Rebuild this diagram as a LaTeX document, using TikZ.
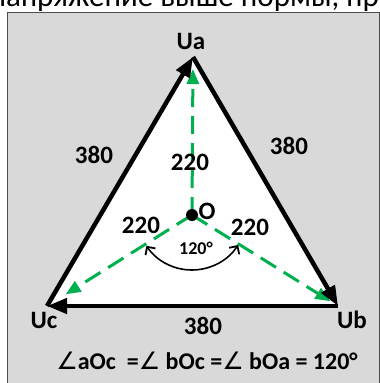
\documentclass[tikz,border=0pt]{standalone}
\usepackage{fontspec}
\setmainfont{Carlito}
\newfontfamily\symfont{DejaVu Sans}
\usetikzlibrary{arrows.meta}
\definecolor{boxgray}{HTML}{D9D9D9}
\definecolor{vecgreen}{HTML}{00B050}
\begin{document}
\begin{tikzpicture}[x=1pt,y=-1pt,
  lbl/.style={font=\fontsize{25}{25}\selectfont\bfseries, inner sep=0pt},
  small/.style={font=\fontsize{18}{18}\selectfont\bfseries, inner sep=0pt},
  edge/.style={line width=4.5pt, -{Triangle[length=20pt,width=15pt]}},
  phase/.style={vecgreen, line width=3pt, dash pattern=on 18pt off 9pt, -{Triangle[length=15pt,width=12pt]}},
  anglearc/.style={line width=1.6pt, {Straight Barb[length=6pt,width=12pt,line width=1.8pt]}-{Straight Barb[length=6pt,width=12pt,line width=1.8pt]}}]
\useasboundingbox (0,0) rectangle (380,383);
\begin{scope}
  \clip (0,0) rectangle (380,12);
  \node[anchor=base east, font=\fontsize{31}{31}\selectfont, inner sep=0pt] (top) at (379,6) {напряжение выше нормы, пр};
\end{scope}
\fill[boxgray, draw=black!70, line width=1pt] (7,12) rectangle (379,395);
\coordinate (Ua) at (193,57);
\coordinate (Ub) at (338,306);
\coordinate (Uc) at (47,306);
\coordinate (O) at (192,215);
\fill[white] (Ua) -- (Ub) -- (Uc) -- cycle;
\draw[phase, shorten >=12pt] (O) -- (Ua);
\draw[phase, shorten >=22pt] (O) -- (Uc);
\draw[phase, shorten >=9pt] (O) -- (Ub);
\draw[edge] (Uc) -- (Ua);
\draw[edge] (Ua) -- (Ub);
\draw[edge] (Ub) -- (Uc);
\node[circle, fill=black, minimum size=12pt, inner sep=0pt] (Odot) at (O) {};
\path (O) ++(146:55) coordinate (arcL);
\draw[anglearc] (arcL) arc[start angle=146, end angle=33, radius=55];
\node[lbl] (la) at (191,41) {Ua};
\node[lbl] (lb) at (352,320) {Ub};
\node[lbl] (lc) at (44,320) {Uc};
\node[lbl] (lo) at (207,211) {O};
\node[lbl] (s1) at (94,155) {380};
\node[lbl] (s2) at (289,146) {380};
\node[lbl] (s3) at (203,326) {380};
\node[lbl] (p1) at (190,162) {220};
\node[lbl] (p2) at (141,225) {220};
\node[lbl] (p3) at (250,227) {220};
\node[small] (ang) at (196,248) {120°};
\node[font=\fontsize{24}{24}\selectfont\bfseries, inner sep=0pt] (eq) at (207,361) {{\symfont\mdseries ∠}aOc\ \ ={\symfont\mdseries ∠} bOc ={\symfont\mdseries ∠} bOa = 120°};
\end{tikzpicture}
\end{document}
